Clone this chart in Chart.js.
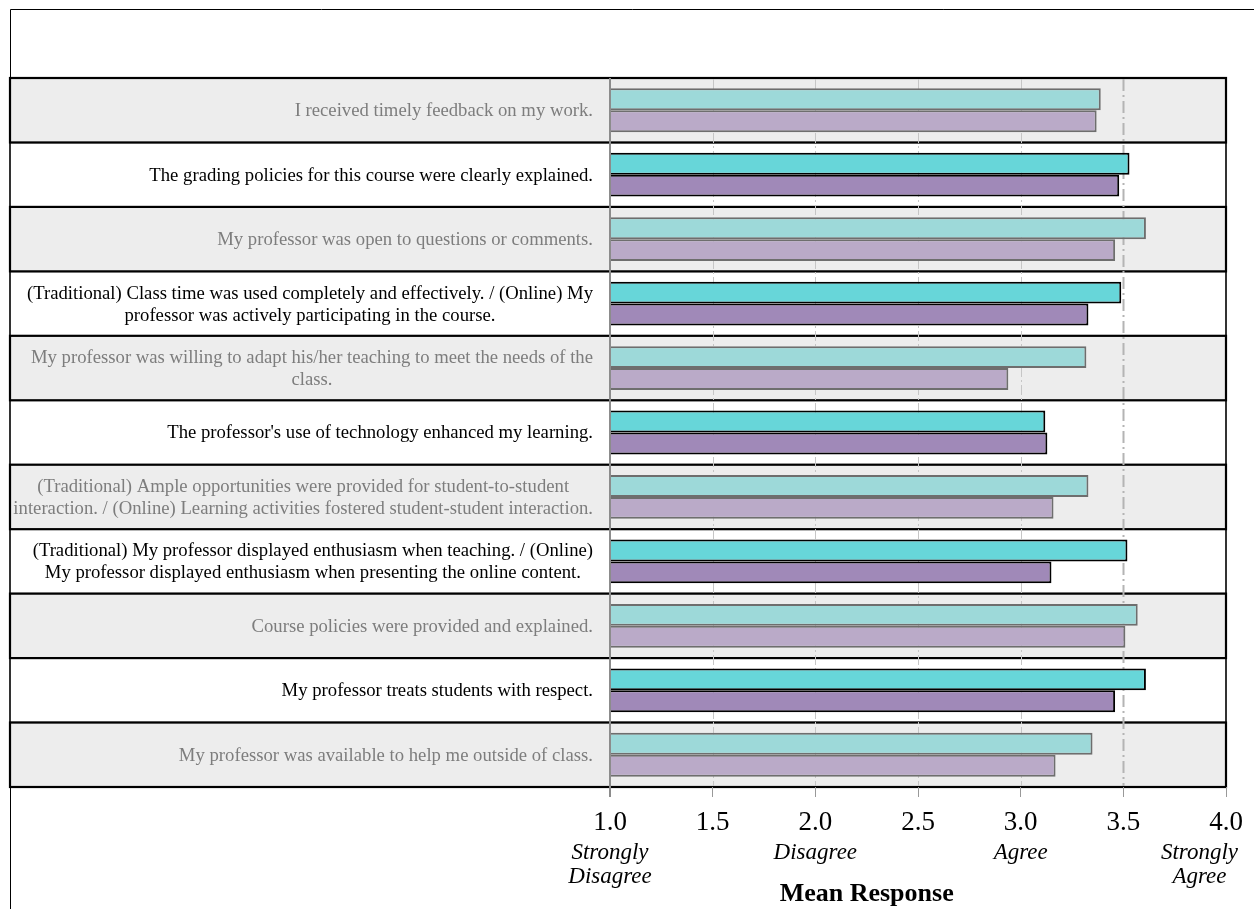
<!DOCTYPE html>
<html>
<head>
<meta charset="utf-8">
<script src="https://cdn.jsdelivr.net/npm/chart.js@4.4.1/dist/chart.umd.min.js"></script>
<style>
  html, body { margin: 0; padding: 0; background: #ffffff; }
  #wrap { position: relative; width: 1254px; height: 909px; }
</style>
</head>
<body>
<div id="wrap"><canvas id="c" width="1254" height="909"></canvas></div>
<script>
// Survey items (each entry is the list of wrapped lines shown beside the row)
const items = [
  ['I received timely feedback on my work.'],
  ['The grading policies for this course were clearly explained.'],
  ['My professor was open to questions or comments.'],
  ['(Traditional) Class time was used completely and effectively. / (Online) My', 'professor was actively participating in the course.'],
  ['My professor was willing to adapt his/her teaching to meet the needs of the', 'class.'],
  ["The professor's use of technology enhanced my learning."],
  ['(Traditional) Ample opportunities were provided for student-to-student', 'interaction. / (Online) Learning activities fostered student-student interaction.'],
  ['(Traditional) My professor displayed enthusiasm when teaching. / (Online)', 'My professor displayed enthusiasm when presenting the online content.'],
  ['Course policies were provided and explained.'],
  ['My professor treats students with respect.'],
  ['My professor was available to help me outside of class.']
];

// Mean responses, one value per item
const seriesOne = [3.39, 3.53, 3.61, 3.49, 3.32, 3.12, 3.33, 3.52, 3.57, 3.61, 3.35];
const seriesTwo = [3.37, 3.48, 3.46, 3.33, 2.94, 3.13, 3.16, 3.15, 3.51, 3.46, 3.17];

// Response scale
const scaleMin = 1.0;
const scaleMax = 4.0;
const scaleStep = 0.5;
const anchorValues = [1, 2, 3, 4];
const anchorWords = [['Strongly', 'Disagree'], ['Disagree'], ['Agree'], ['Strongly', 'Agree']];
const axisTitle = 'Mean Response';

const SERIF = '"Liberation Serif", "Times New Roman", Times, serif';

const shadedRow = i => i % 2 === 0;

// Row bands, grid lines, row labels and scale wording
const panelPlugin = {
  id: 'panel',
  beforeDraw(chart) {
    const { ctx, chartArea: ca } = chart;
    const ys = chart.scales.y;
    const n = chart.data.labels.length;
    const band = (ca.bottom - ca.top) / n;
    ctx.save();
    // outer frame
    ctx.strokeStyle = '#000';
    ctx.lineWidth = 1;
    ctx.beginPath();
    ctx.moveTo(10.5, chart.height);
    ctx.lineTo(10.5, 9.5);
    ctx.lineTo(chart.width, 9.5);
    ctx.stroke();
    // white rows first, shaded rows on top
    const order = [];
    for (let i = 0; i < n; i++) if (!shadedRow(i)) order.push(i);
    for (let i = 0; i < n; i++) if (shadedRow(i)) order.push(i);
    order.forEach(i => {
      const yc = ys.getPixelForValue(i);
      const top = yc - band / 2;
      ctx.fillStyle = shadedRow(i) ? '#ededed' : '#ffffff';
      ctx.fillRect(10, top, ca.right - 10, band);
      ctx.strokeStyle = '#000';
      ctx.lineWidth = shadedRow(i) ? 2.2 : 1.6;
      ctx.strokeRect(10, top, ca.right - 10, band);
    });
    ctx.restore();
  },
  beforeDatasetsDraw(chart) {
    const { ctx, chartArea: ca } = chart;
    const xs = chart.scales.x;
    ctx.save();
    for (let v = scaleMin + scaleStep; v < scaleMax - 1e-9; v += scaleStep) {
      const x = Math.round(xs.getPixelForValue(v)) + 0.5;
      const major = Math.abs(v - 3.5) < 1e-9;
      ctx.strokeStyle = major ? '#b4b4b4' : '#c6c6c6';
      ctx.lineWidth = major ? 2 : 1;
      ctx.setLineDash(major ? [12, 4, 2, 4] : [10, 3, 2, 3]);
      ctx.beginPath();
      ctx.moveTo(x, ca.top + 1);
      ctx.lineTo(x, ca.bottom - 1);
      ctx.stroke();
    }
    ctx.restore();
  },
  afterDatasetsDraw(chart) {
    const { ctx, chartArea: ca } = chart;
    const xs = chart.scales.x;
    const ys = chart.scales.y;
    ctx.save();
    // baseline at the scale minimum
    const x0 = xs.getPixelForValue(scaleMin);
    ctx.strokeStyle = '#8c8c8c';
    ctx.lineWidth = 2;
    ctx.beginPath();
    ctx.moveTo(x0, ca.top);
    ctx.lineTo(x0, ca.bottom + 10);
    ctx.stroke();

    // item labels: centered block, right-aligned to the plot edge
    ctx.font = '18.7px ' + SERIF;
    ctx.textAlign = 'center';
    ctx.textBaseline = 'middle';
    const lh = 22;
    chart.data.labels.forEach((lines, i) => {
      const yc = ys.getPixelForValue(i);
      const w = Math.max(...lines.map(s => ctx.measureText(s).width));
      const cx = ca.left - 17 - w / 2;
      ctx.fillStyle = shadedRow(i) ? '#7d7d7d' : '#000000';
      const y0 = yc - (lines.length - 1) * lh / 2 + 1;
      lines.forEach((s, k) => ctx.fillText(s, cx, y0 + k * lh));
    });

    // scale wording under the numeric ticks
    ctx.font = 'italic 23px ' + SERIF;
    ctx.fillStyle = '#000';
    anchorValues.forEach((v, j) => {
      const lines = anchorWords[j];
      const w = Math.max(...lines.map(s => ctx.measureText(s).width));
      let cx = xs.getPixelForValue(v);
      cx = Math.min(cx, chart.width - 16 - w / 2);
      lines.forEach((s, k) => ctx.fillText(s, cx, ca.bottom + 66 + k * 24));
    });

    // axis title
    ctx.font = 'bold 26px ' + SERIF;
    ctx.fillText(axisTitle, xs.getPixelForValue(2.25), chart.height - 15);
    ctx.restore();
  }
};

const light = ['#9dd9d9', '#baaac8'];
const dark = ['#67d6d9', '#a089b8'];

function makeSet(label, data, k) {
  return {
    label,
    data,
    backgroundColor: c => shadedRow(c.dataIndex) ? light[k] : dark[k],
    borderColor: c => shadedRow(c.dataIndex) ? '#6e6e6e' : '#000000',
    borderWidth: 2,
    borderSkipped: false,
    categoryPercentage: 0.68,
    barPercentage: 1.0
  };
}

new Chart(document.getElementById('c'), {
  type: 'bar',
  data: {
    labels: items,
    datasets: [makeSet('Series 1', seriesOne, 0), makeSet('Series 2', seriesTwo, 1)]
  },
  options: {
    indexAxis: 'y',
    responsive: false,
    animation: false,
    layout: { padding: { left: 610, right: 28, top: 78, bottom: 0 } },
    plugins: { legend: { display: false }, tooltip: { enabled: false } },
    scales: {
      y: { display: false },
      x: {
        min: scaleMin,
        max: scaleMax,
        ticks: {
          stepSize: scaleStep,
          callback: v => Number(v).toFixed(1),
          font: { family: SERIF, size: 27 },
          color: '#000',
          padding: 10,
          maxRotation: 0,
          autoSkip: false
        },
        grid: { drawOnChartArea: false, drawTicks: true, tickLength: 10, color: '#999', tickColor: '#999' },
        border: { display: false },
        afterFit: s => { s.height = 122; }
      }
    }
  },
  plugins: [panelPlugin]
});
</script>
</body>
</html>
